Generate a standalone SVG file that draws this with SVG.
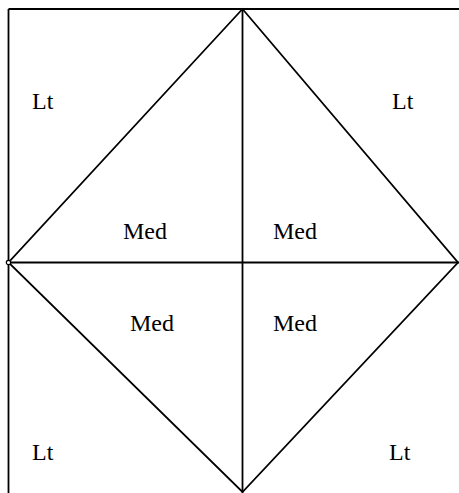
<svg xmlns="http://www.w3.org/2000/svg" width="459" height="493" viewBox="0 0 459 493">
<style>
.ln{stroke:#000;stroke-width:1.8;fill:none}
</style>
<rect width="459" height="493" fill="#fff"/>
<g id="connectors">
<line class="ln" x1="8.5" y1="9" x2="459" y2="9"/>
<line class="ln" x1="8.5" y1="9" x2="8.5" y2="493"/>
<line class="ln" x1="8.5" y1="262.5" x2="459" y2="262.5"/>
<line class="ln" x1="242.5" y1="9" x2="242.5" y2="493"/>
<polygon class="ln" points="242.5,9 458,262.5 242.5,492 8.5,262.5"/>
</g>
<g id="vertex-left"><circle cx="8.5" cy="262.5" r="2.2" fill="#fff" stroke="#000" stroke-width="1.2"/></g>
<g font-family="'Liberation Serif', 'Times New Roman', 'DejaVu Serif', serif" font-size="24" fill="#000">
<g id="lt-top-left"><text x="32" y="109">Lt</text></g>
<g id="lt-top-right"><text x="392" y="109">Lt</text></g>
<g id="med-top-left"><text x="123" y="239">Med</text></g>
<g id="med-top-right"><text x="273" y="239">Med</text></g>
<g id="med-bottom-left"><text x="130" y="331">Med</text></g>
<g id="med-bottom-right"><text x="273" y="331">Med</text></g>
<g id="lt-bottom-left"><text x="32" y="460">Lt</text></g>
<g id="lt-bottom-right"><text x="389" y="460">Lt</text></g>
</g>
</svg>
